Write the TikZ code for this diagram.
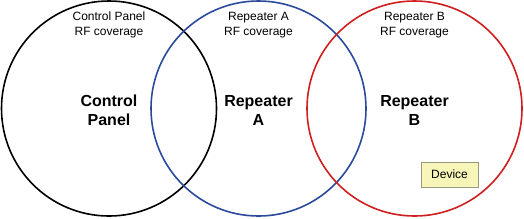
\documentclass[tikz,border=0pt]{standalone}
\usepackage{fontspec}
\setmainfont{Liberation Sans}
\definecolor{cblue}{HTML}{2B4A9B}
\definecolor{cred}{HTML}{D01F1F}
\definecolor{devfill}{HTML}{F7F5B8}
\definecolor{devdraw}{HTML}{999980}
\begin{document}
\begin{tikzpicture}[x=1pt,y=-1pt,
  zone/.style={line width=1.6pt},
  small/.style={font=\fontsize{12}{15}\selectfont, align=center, inner sep=0pt},
  big/.style={font=\fontsize{16}{19}\selectfont\bfseries, align=center, inner sep=0pt},
  devbox/.style={draw=devdraw, fill=devfill, line width=0.8pt, minimum width=57pt, minimum height=25pt, inner sep=0pt, font=\fontsize{12}{14}\selectfont}]
\useasboundingbox (0,0) rectangle (524,218);
\draw[zone, black] (109,108.5) circle (107.5);
\draw[zone, cblue] (258.5,108.5) circle (107.5);
\draw[zone, cred] (414.5,108.5) circle (107.5);
\node[small] (cpcov) at (109,25) {Control Panel\\RF coverage};
\node[small] (racov) at (258.5,25) {Repeater A\\RF coverage};
\node[small] (rbcov) at (414.5,25) {Repeater B\\RF coverage};
\node[big] (cp) at (109,110) {Control\\Panel};
\node[big] (ra) at (258.5,110) {Repeater\\A};
\node[big] (rb) at (414.5,110) {Repeater\\B};
\node[devbox] (dev) at (449.5,174.5) {Device};
\end{tikzpicture}
\end{document}
